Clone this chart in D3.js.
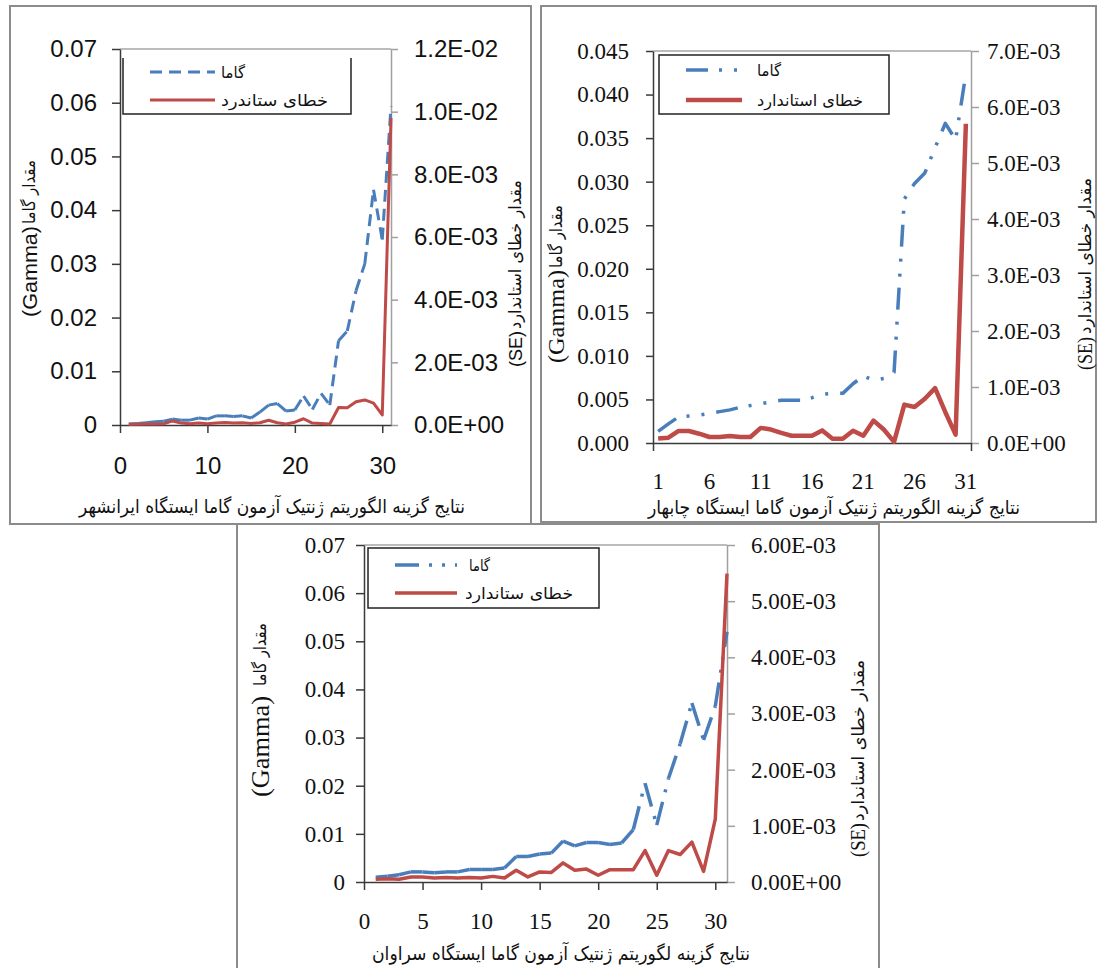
<!DOCTYPE html>
<html><head><meta charset="utf-8">
<script src="https://cdn.jsdelivr.net/npm/d3@7"></script>
<style>body{margin:0;background:#fff;} svg{display:block}</style>
</head><body>
<script>
// ---------------- DATA ----------------
const runs = [1,2,3,4,5,6,7,8,9,10,11,12,13,14,15,16,17,18,19,20,21,22,23,24,25,26,27,28,29,30,31];

// Panel 1 : Iranshahr
const gammaIranshahr = [0.0002,0.0003,0.0004,0.0006,0.0007,0.0011,0.0009,0.0009,0.0013,0.0011,0.0017,0.0017,0.0016,0.0017,0.0013,0.0024,0.0037,0.0040,0.0026,0.0028,0.0054,0.0029,0.0059,0.0037,0.0157,0.0175,0.0250,0.0300,0.0438,0.0345,0.0593];
const seIranshahr = [0.00002,0.00002,0.00003,0.00003,0.00004,0.00013,0.00006,0.00004,0.00006,0.00004,0.00006,0.00008,0.00006,0.00007,0.00005,0.00007,0.00015,0.00007,0.00003,0.00009,0.00020,0.00006,0.00005,0.00003,0.00056,0.00055,0.00074,0.00080,0.00070,0.00032,0.0098];

// Panel 2 : Chabahar
const gammaChabahar = [0.00134,0.0022,0.0030,0.0031,0.0032,0.0034,0.0036,0.0038,0.0041,0.0043,0.0045,0.0047,0.0049,0.0049,0.0049,0.0052,0.0056,0.0057,0.0057,0.0068,0.0077,0.0072,0.0074,0.0081,0.0280,0.0298,0.0310,0.0339,0.0367,0.0348,0.0424];
const seChabahar = [0.000082,0.000095,0.000215,0.000215,0.000166,0.000107,0.000107,0.000125,0.000107,0.000107,0.00027,0.00024,0.00018,0.00013,0.00013,0.00013,0.000225,0.000077,0.000077,0.00022,0.00013,0.00040,0.00024,0.00002,0.000685,0.000644,0.00079,0.00098,0.00055,0.00015,0.0057];

// Panel 3 : Saravan
const gammaSaravan = [0.0010,0.0012,0.0015,0.0021,0.0021,0.0019,0.0021,0.0021,0.0026,0.0026,0.0026,0.0029,0.0053,0.0053,0.0058,0.0060,0.0085,0.0075,0.0082,0.0082,0.0078,0.0081,0.0109,0.0205,0.0118,0.0215,0.0287,0.0372,0.0295,0.0365,0.0520];
const seSaravan = [0.00005,0.00006,0.00005,0.00009,0.00009,0.00007,0.00008,0.00007,0.00008,0.00007,0.00010,0.00007,0.00021,0.00009,0.00018,0.00017,0.00034,0.00021,0.00023,0.00012,0.00022,0.00022,0.00022,0.00056,0.00012,0.00056,0.00049,0.00071,0.00019,0.00112,0.00549];

// Tick labels
const p1LeftTicks  = ["0","0.01","0.02","0.03","0.04","0.05","0.06","0.07"];
const p1RightTicks = ["0.0E+00","2.0E-03","4.0E-03","6.0E-03","8.0E-03","1.0E-02","1.2E-02"];
const p1XTicks     = ["0","10","20","30"];
const p2LeftTicks  = ["0.000","0.005","0.010","0.015","0.020","0.025","0.030","0.035","0.040","0.045"];
const p2RightTicks = ["0.0E+00","1.0E-03","2.0E-03","3.0E-03","4.0E-03","5.0E-03","6.0E-03","7.0E-03"];
const p2XTicks     = ["1","6","11","16","21","26","31"];
const p3LeftTicks  = ["0","0.01","0.02","0.03","0.04","0.05","0.06","0.07"];
const p3RightTicks = ["0.00E+00","1.00E-03","2.00E-03","3.00E-03","4.00E-03","5.00E-03","6.00E-03"];
const p3XTicks     = ["0","5","10","15","20","25","30"];

// Texts
const legendGamma = "گاما";
const legendSE1 = "خطای ستاندرد";
const legendSE2 = "خطای استاندارد";
const legendSE3 = "خطای ستاندارد";
const yLeftAr = "مقدار گاما";
const yLeftLat = "(Gamma)";
const yRightAr = "مقدار خطای استاندارد";
const yRightLat = "(SE)";
const xTitle1 = "نتایج گزینه الگوریتم ژنتیک آزمون گاما ایستگاه ایرانشهر";
const xTitle2 = "نتایج گزینه الگوریتم ژنتیک آزمون گاما ایستگاه چابهار";
const xTitle3 = "نتایج گزینه لگوریتم ژنتیک آزمون گاما ایستگاه سراوان";

// ---------------- DRAW ----------------
const BLUE = "#4a7ebb", RED = "#be4b48";
const svg = d3.select("body").append("svg").attr("width", 1097).attr("height", 968);
const AR = '"DejaVu Sans", sans-serif';
const SANS = '"Liberation Sans", Arial, sans-serif';
const SERIF = '"Liberation Serif", "Times New Roman", serif';

function panel(cfg) {
  const g = svg.append("g");
  g.append("rect").attr("x", cfg.frame[0]).attr("y", cfg.frame[1])
    .attr("width", cfg.frame[2]-cfg.frame[0]).attr("height", cfg.frame[3]-cfg.frame[1])
    .attr("fill", "none").attr("stroke", "#8c8c8c").attr("stroke-width", 2);

  const yL = d3.scaleLinear().domain([0, +cfg.leftTicks[cfg.leftTicks.length-1]]).range([cfg.bottom, cfg.top]);
  const yR = d3.scaleLinear().domain([0, +cfg.rightTicks[cfg.rightTicks.length-1]]).range([cfg.bottom, cfg.top]);
  let xPos, xAxisScale;
  if (cfg.band) {
    const xb = d3.scaleBand().domain(runs).range([cfg.left, cfg.right]);
    xPos = d => xb(d) + xb.bandwidth()/2;
    xAxisScale = xb;
  } else {
    const xl = d3.scaleLinear().domain([0, 31]).range([cfg.left, cfg.right]);
    xPos = xl; xAxisScale = xl;
  }

  g.append("line").attr("x1", cfg.left).attr("x2", cfg.right).attr("y1", cfg.top).attr("y2", cfg.top)
    .attr("stroke", "#a6a6a6").attr("stroke-width", 1.5);

  const styleAxis = (sel, color) => {
    sel.attr("font-family", cfg.font).attr("font-size", cfg.fs);
    sel.select(".domain").attr("stroke", color).attr("stroke-width", 1.5);
    sel.selectAll(".tick line").attr("stroke", color).attr("stroke-width", 1.5);
    sel.selectAll(".tick text").attr("fill", "#111")
      .style("font-family", cfg.font).style("font-size", cfg.fs + "px");
  };

  const aL = d3.axisLeft(yL).tickValues(cfg.leftTicks.map(Number)).tickFormat((d,i)=>cfg.leftTicks[i])
    .tickSize(cfg.tickL).tickSizeOuter(0).tickPadding(cfg.padL);
  styleAxis(g.append("g").attr("transform", `translate(${cfg.left},0)`).call(aL), "#3a3a3a");
  const aR = d3.axisRight(yR).tickValues(cfg.rightTicks.map(Number)).tickFormat((d,i)=>cfg.rightTicks[i])
    .tickSize(cfg.tickR).tickSizeOuter(0).tickPadding(cfg.padR);
  styleAxis(g.append("g").attr("transform", `translate(${cfg.right},0)`).call(aR), "#a0a0a0");
  const aB = d3.axisBottom(xAxisScale).tickValues(cfg.xTicks.map(Number)).tickFormat((d,i)=>cfg.xTicks[i])
      .tickSize(cfg.band ? 0 : cfg.tickB).tickSizeOuter(0).tickPadding(cfg.padB);
  styleAxis(g.append("g").attr("transform", `translate(0,${cfg.bottom})`).call(aB), "#3a3a3a");
  if (cfg.band) {
    const edge = d3.scaleLinear().domain([0, runs.length]).range([cfg.left, cfg.right]);
    g.append("g").attr("transform", `translate(0,${cfg.bottom})`)
      .call(d3.axisBottom(edge).tickValues([0, runs.length]).tickFormat("").tickSize(cfg.tickB).tickSizeOuter(0))
      .call(s => { s.select(".domain").remove(); s.selectAll("line").attr("stroke","#3a3a3a").attr("stroke-width",1.5); });
  }

  function series(vals, ys, st) {
    const pts = runs.map((r,i)=>[r, vals[i]]);
    const lf = d3.line().x(d=>xPos(d[0])).y(d=>ys(d[1]));
    const data = st.perSegment ? d3.pairs(pts) : [pts];
    g.append("g").selectAll("path").data(data).join("path")
      .attr("d", d => lf(d)).attr("fill", "none")
      .attr("stroke", st.color).attr("stroke-width", st.width)
      .attr("stroke-dasharray", st.dash || null)
      .attr("stroke-linejoin", "round").attr("stroke-linecap", "butt");
  }
  series(cfg.gamma, yL, cfg.gStyle);
  series(cfg.se, yR, cfg.sStyle);

  // legend
  const L = cfg.legend;
  if (L.noTop) {
    g.append("path").attr("d", d3.line()([[L.box[0],L.box[1]],[L.box[0],L.box[3]],[L.box[2],L.box[3]],[L.box[2],L.box[1]]]))
      .attr("fill","none").attr("stroke","#222").attr("stroke-width",1.5);
  } else {
    g.append("rect").attr("x",L.box[0]).attr("y",L.box[1]).attr("width",L.box[2]-L.box[0]).attr("height",L.box[3]-L.box[1])
      .attr("fill","#fff").attr("stroke","#222").attr("stroke-width",1.5);
  }
  const ent = [[cfg.gStyle, legendGamma, L.y1, L.t1x, L.w1], [cfg.sStyle, cfg.seLabel, L.y2, L.t2x, L.w2]];
  ent.forEach(([st, txt, y, tx, w]) => {
    g.append("path").attr("d", d3.line()([[L.lx[0], y],[L.lx[1], y]]))
      .attr("stroke", st.color).attr("stroke-width", st.width).attr("stroke-dasharray", st.dash || null)
      .attr("fill","none");
    g.append("text").attr("x", tx).attr("y", y).attr("dominant-baseline","central")
      .style("font-family", AR).style("font-size", L.fs + "px").attr("fill","#111")
      .attr("textLength", w).attr("lengthAdjust","spacingAndGlyphs").text(txt);
  });

  function vtext(txt, cx, a, b, fs, fam, rot) {
    const t = g.append("text").attr("text-anchor","middle").attr("dominant-baseline","central")
      .style("font-family", fam).style("font-size", fs + "px").attr("fill","#111")
      .attr("textLength", Math.abs(b - a)).attr("lengthAdjust","spacingAndGlyphs").text(txt);
    if (rot) t.attr("transform", `translate(${cx},${(a+b)/2}) rotate(-90)`);
    else t.attr("transform", `translate(${(a+b)/2},${cx})`);
  }
  vtext(cfg.xTitle, cfg.xT[0], cfg.xT[1], cfg.xT[2], cfg.tfs, AR, false);
  vtext(yLeftAr,  cfg.yLA[0], cfg.yLA[1], cfg.yLA[2], cfg.arfs, AR, true);
  vtext(yLeftLat, cfg.yLL[0], cfg.yLL[1], cfg.yLL[2], cfg.latfs, cfg.font, true);
  vtext(yRightAr,  cfg.yRA[0], cfg.yRA[1], cfg.yRA[2], cfg.arfs, AR, true);
  vtext(yRightLat, cfg.yRL[0], cfg.yRL[1], cfg.yRL[2], cfg.latfs2, cfg.font, true);
}

panel({
  frame: [10, 6, 531, 524], left: 120, right: 391, top: 49, bottom: 425,
  font: SANS, fs: 24, tfs: 19, arfs: 17, latfs: 21, latfs2: 19,
  leftTicks: p1LeftTicks, rightTicks: p1RightTicks, xTicks: p1XTicks, band: false,
  tickL: 8, padL: 15, tickR: 7, padR: 16, tickB: 8, padB: 24,
  gamma: gammaIranshahr, se: seIranshahr, seLabel: legendSE1,
  gStyle: {color: BLUE, width: 3, dash: "12,7", perSegment: true},
  sStyle: {color: RED, width: 3},
  legend: {box: [123, 58, 351, 114], noTop: true, lx: [150, 215], y1: 72, y2: 100, t1x: 221, t2x: 221, w1: 24, w2: 107, fs: 16},
  xTitle: xTitle1, xT: [506, 79, 465],
  yLA: [29, 160, 224], yLL: [29, 226, 317],
  yRA: [515, 180, 329], yRL: [515, 331, 367]
});

panel({
  frame: [541, 6, 1096, 522], left: 653, right: 971, top: 51, bottom: 443,
  font: SERIF, fs: 23, tfs: 19, arfs: 17, latfs: 24, latfs2: 20,
  leftTicks: p2LeftTicks, rightTicks: p2RightTicks, xTicks: p2XTicks, band: true,
  tickL: 7, padL: 17, tickR: 8, padR: 8, tickB: 8, padB: 30,
  gamma: gammaChabahar, se: seChabahar, seLabel: legendSE2,
  gStyle: {color: BLUE, width: 3.5, dash: "22,11,3,12,3,12", perSegment: false},
  sStyle: {color: RED, width: 4.5},
  legend: {box: [659, 55, 889, 114], noTop: false, lx: [686, 742], y1: 70, y2: 100, t1x: 757, t2x: 757, w1: 24, w2: 106, fs: 16},
  xTitle: xTitle2, xT: [507, 648, 1020],
  yLA: [556, 205, 268], yLL: [556, 270, 363],
  yRA: [1085, 178, 334], yRL: [1085, 337, 370]
});

panel({
  frame: [237, 524, 879, 975], left: 364, right: 727, top: 545, bottom: 882,
  font: SERIF, fs: 23, tfs: 19, arfs: 17, latfs: 25, latfs2: 20,
  leftTicks: p3LeftTicks, rightTicks: p3RightTicks, xTicks: p3XTicks, band: false,
  tickL: 8, padL: 11, tickR: 8, padR: 16, tickB: 8, padB: 23,
  gamma: gammaSaravan, se: seSaravan, seLabel: legendSE3,
  gStyle: {color: BLUE, width: 3.5, dash: "24,10,3,10,3,10", perSegment: true},
  sStyle: {color: RED, width: 3.5},
  legend: {box: [368, 548, 599, 608], noTop: false, lx: [395, 457], y1: 565, y2: 593, t1x: 469, t2x: 465, w1: 21, w2: 108, fs: 16},
  xTitle: xTitle3, xT: [953, 372, 750],
  yLA: [260, 623, 686], yLL: [260, 696, 797],
  yRA: [858, 660, 821], yRL: [858, 823, 857]
});
</script>
</body></html>
